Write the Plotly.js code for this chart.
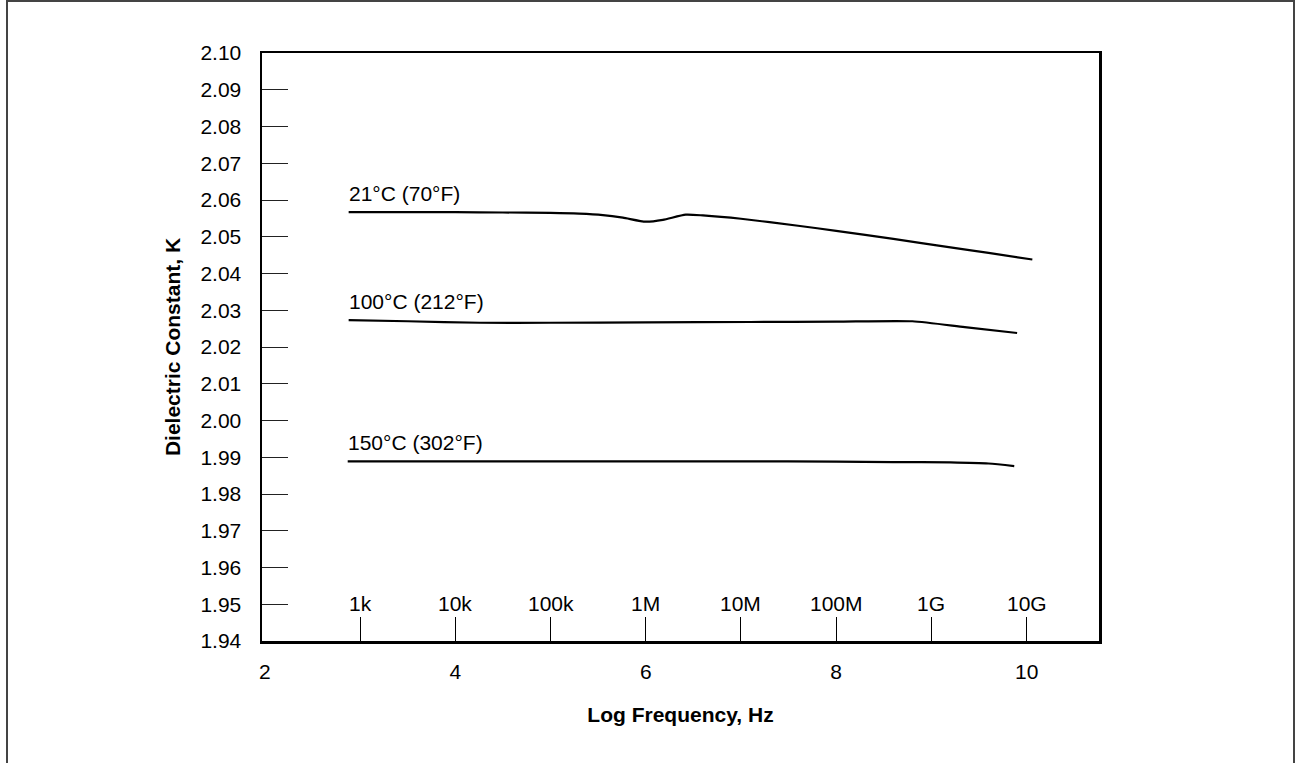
<!DOCTYPE html>
<html>
<head>
<meta charset="utf-8">
<script src="https://cdn.plot.ly/plotly-3.0.1.min.js"></script>
<style>
  html, body { margin: 0; padding: 0; background: #fff; }
  #wrap { position: relative; width: 1302px; height: 763px; overflow: hidden; }
  #chart { position: absolute; left: 0; top: 0; width: 1302px; height: 763px; }
  #frame { position: absolute; left: 6px; top: 0px; width: 1289px; height: 800px;
           border: 2px solid #444; pointer-events: none; box-sizing: border-box; }
</style>
</head>
<body>
<div id="wrap">
  <div id="chart"></div>
  <div id="frame"></div>
</div>
<script>
// ---- data ----
const seriesNames = ["21°C (70°F)", "100°C (212°F)", "150°C (302°F)"];

const x21 = [2.88, 3.5, 4.0, 4.5, 5.0, 5.3, 5.55, 5.76, 6.0, 6.18, 6.42, 6.6, 7.0, 7.6, 8.0, 8.6, 9.2, 9.6, 10.06];
const y21 = [2.0567, 2.0567, 2.0567, 2.0566, 2.0565, 2.0563, 2.0559, 2.0552, 2.0541, 2.0546, 2.0560, 2.0558, 2.0549, 2.0530, 2.0516, 2.0494, 2.0471, 2.0456, 2.0438];

const x100 = [2.88, 3.5, 4.26, 5.0, 6.0, 7.1, 8.0, 8.8, 9.35, 9.9];
const y100 = [2.0273, 2.0270, 2.0266, 2.0266, 2.0267, 2.0268, 2.0269, 2.0270, 2.0254, 2.0238];

const x150 = [2.87, 4.0, 5.0, 6.0, 7.0, 8.0, 8.6, 9.2, 9.6, 9.87];
const y150 = [1.9889, 1.9889, 1.9889, 1.9889, 1.9889, 1.9888, 1.9887, 1.9886, 1.9883, 1.9876];

const xTickVals = [2, 4, 6, 8, 10];
const freqTickVals = [3, 4, 5, 6, 7, 8, 9, 10];
const freqTickText = ["1k", "10k", "100k", "1M", "10M", "100M", "1G", "10G"];
const yTickVals = [1.94, 1.95, 1.96, 1.97, 1.98, 1.99, 2.00, 2.01, 2.02, 2.03, 2.04, 2.05, 2.06, 2.07, 2.08, 2.09, 2.10];

const xs = [x21, x100, x150];
const ys = [y21, y100, y150];

// ---- chart ----
const FONT = "Liberation Sans, Arial, Helvetica, sans-serif";
const xRange = [1.97, 10.76];

const traces = xs.map((xv, i) => ({
  x: xv, y: ys[i], type: "scatter", mode: "lines", name: seriesNames[i],
  line: { color: "#000", width: 2.2, shape: "spline", smoothing: 0.6 },
  hoverinfo: "skip", showlegend: false
}));
// invisible trace to activate the secondary (frequency) axis
traces.push({ x: [freqTickVals[0]], y: [yTickVals[0]], xaxis: "x2", yaxis: "y",
  type: "scatter", mode: "markers", marker: { opacity: 0 }, hoverinfo: "skip", showlegend: false });

const annotations = xs.map((xv, i) => ({
  x: xv[0], y: ys[i][0], xref: "x", yref: "y", text: seriesNames[i],
  showarrow: false, xanchor: "left", yanchor: "bottom", yshift: 5, xshift: -2,
  font: { family: FONT, size: 21, color: "#000" }
}));
// frequency labels above the inside ticks
freqTickVals.forEach((v, i) => annotations.push({
  x: v, y: 0, xref: "x", yref: "paper", text: freqTickText[i],
  showarrow: false, xanchor: "center", yanchor: "middle", yshift: 38,
  font: { family: FONT, size: 21, color: "#000" }
}));

const layout = {
  width: 1302, height: 763,
  margin: { l: 262, r: 203, t: 53, b: 122, pad: 0 },
  paper_bgcolor: "#fff", plot_bgcolor: "#fff",
  font: { family: FONT, color: "#000", size: 21 },
  showlegend: false,
  xaxis: {
    range: xRange, tickvals: xTickVals, ticks: "", showgrid: false, zeroline: false,
    showline: true, linecolor: "#000", linewidth: 2.5, mirror: true,
    tickfont: { family: FONT, size: 21, color: "#000" }, ticklabelstandoff: 10,
    title: { text: "<b>Log Frequency, Hz</b>", font: { family: FONT, size: 21, color: "#000" }, standoff: 26 }
  },
  xaxis2: {
    range: xRange, overlaying: "x", anchor: "y", side: "bottom",
    tickvals: freqTickVals, showticklabels: false,
    ticks: "inside", ticklen: 24, tickwidth: 1, tickcolor: "#000",
    showgrid: false, zeroline: false, showline: false
  },
  yaxis: {
    range: [1.94, 2.10], tickvals: yTickVals, tickformat: ".2f",
    ticks: "inside", ticklen: 26, tickwidth: 1, tickcolor: "#222",
    showgrid: false, zeroline: false,
    showline: true, linecolor: "#000", linewidth: 2.5, mirror: true,
    tickfont: { family: FONT, size: 21, color: "#000" }, ticklabelstandoff: 14,
    title: { text: "<b>Dielectric Constant, K</b>", font: { family: FONT, size: 21, color: "#000" }, standoff: 14 }
  },
  annotations: annotations
};

Plotly.newPlot("chart", traces, layout, { staticPlot: true, displayModeBar: false });
</script>
</body>
</html>
